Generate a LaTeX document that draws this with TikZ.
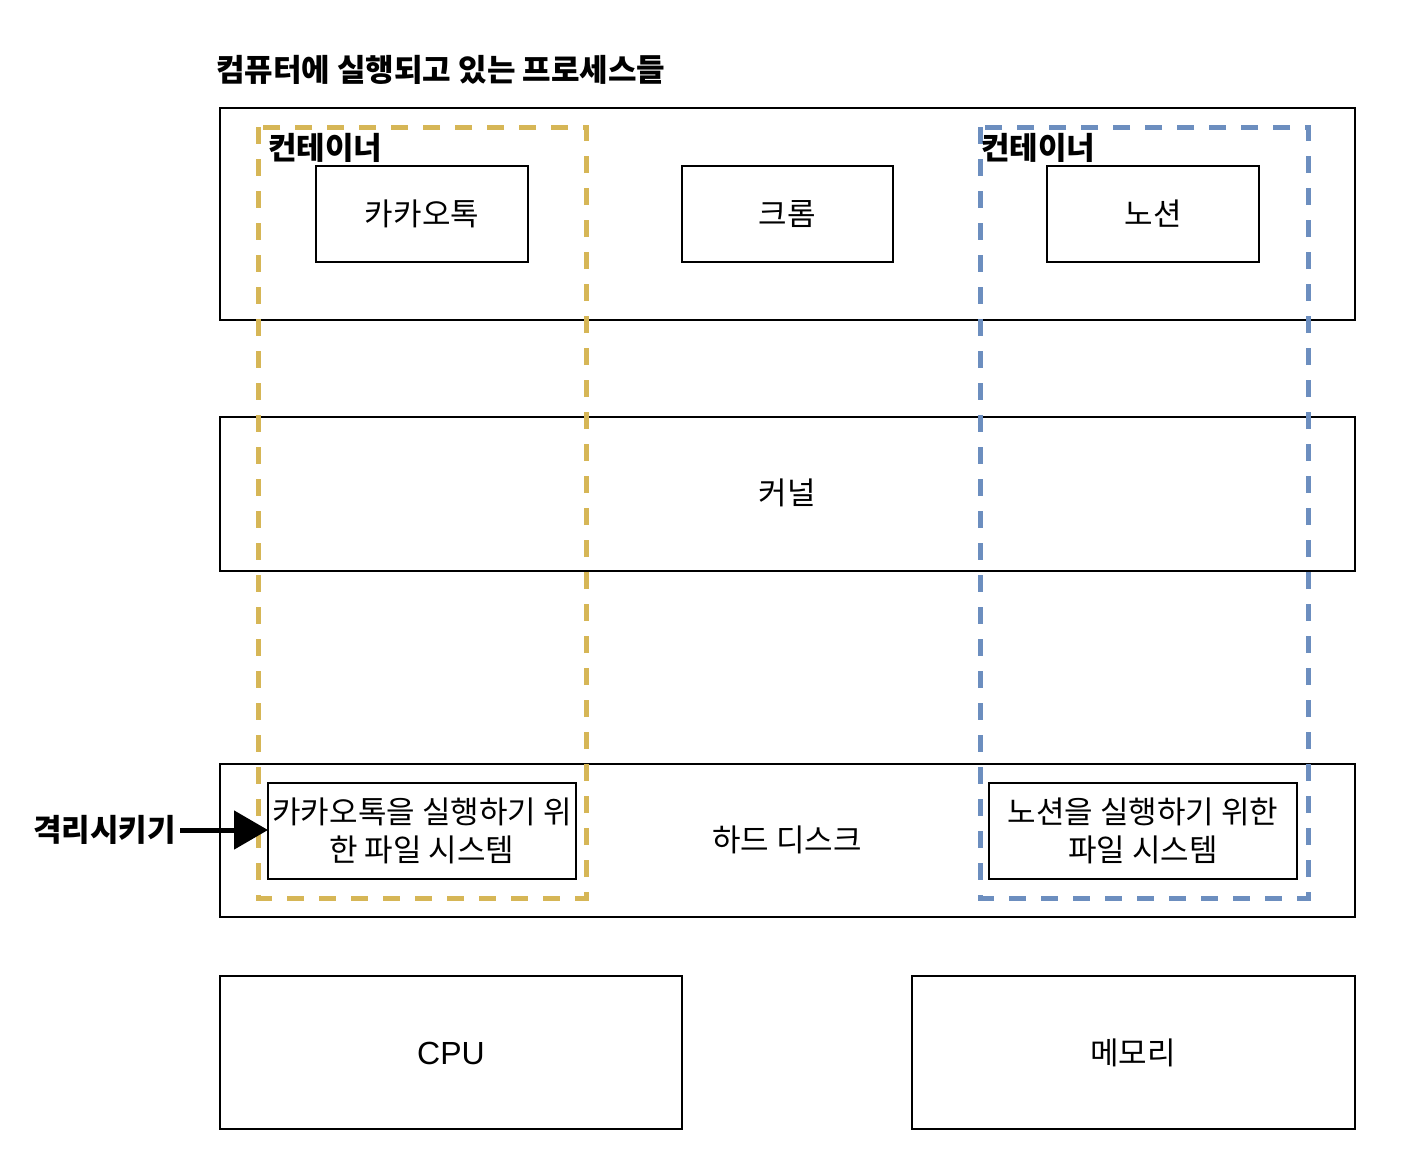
\documentclass[tikz,border=0pt]{standalone}
\usepackage{fontspec}
\setmainfont{Noto Sans CJK KR}
\newfontfamily\latinfont{Liberation Sans}
\usetikzlibrary{arrows.meta}
\definecolor{ylw}{HTML}{D6B656}
\definecolor{blu}{HTML}{6C8EBF}
\begin{document}
\begin{tikzpicture}[x=1pt,y=-1pt,
  box/.style={draw=black,line width=1.5pt},
  txt/.style={font=\fontsize{31}{38}\selectfont,inner sep=0pt},
  btxt/.style={font=\fontsize{31}{38}\selectfont\bfseries,inner sep=0pt},
  cont/.style={line width=5pt,dash pattern=on 17pt off 15pt}]
\useasboundingbox (0,0) rectangle (1422,1160);
% outer boxes
\draw[box] (220,108) rectangle (1355,320);
\draw[box] (220,417) rectangle (1355,571);
\draw[box] (220,764) rectangle (1355,917);
\draw[box] (220,976) rectangle (682,1129);
\draw[box] (912,976) rectangle (1355,1129);
\node[txt] (kernel) at (787,493) {커널};
\node[txt] (hdd) at (787,840) {하드 디스크};
\node[txt,font=\fontsize{32}{38}\latinfont] (cpu) at (451,1053) {CPU};
\node[txt] (mem) at (1133,1053) {메모리};
% processes
\draw[box] (316,166) rectangle (528,262);
\node[txt] (kakao) at (422,214) {카카오톡};
\draw[box] (682,166) rectangle (893,262);
\node[txt] (chrome) at (787,214) {크롬};
\draw[box] (1047,166) rectangle (1259,262);
\node[txt] (notion) at (1153,214) {노션};
% file systems
\draw[box] (268,783) rectangle (576,879);
\node[txt,align=center] (fs1) at (422,831) {카카오톡을 실행하기 위\\한 파일 시스템};
\coordinate (fs1w) at (268,830);
\draw[box] (989,783) rectangle (1297,879);
\node[txt,align=center] (fs2) at (1143,831) {노션을 실행하기 위한\\파일 시스템};
% containers
\draw[cont,draw=ylw] (258,127) rectangle (586,898);
\draw[cont,draw=blu] (980,127) rectangle (1308,898);
\node[btxt,anchor=west] (c1) at (268,148) {컨테이너};
\node[btxt,anchor=west] (c2) at (981,148) {컨테이너};
% title
\node[btxt,anchor=west] (title) at (216,70) {컴퓨터에 실행되고 있는 프로세스들};
% isolate label
\node[btxt,anchor=east] (iso) at (176,830) {격리시키기};
\draw[line width=5pt,-{Triangle[length=34pt,width=38pt]}] (iso.east) ++(4,0) -- (fs1w);
\end{tikzpicture}
\end{document}
